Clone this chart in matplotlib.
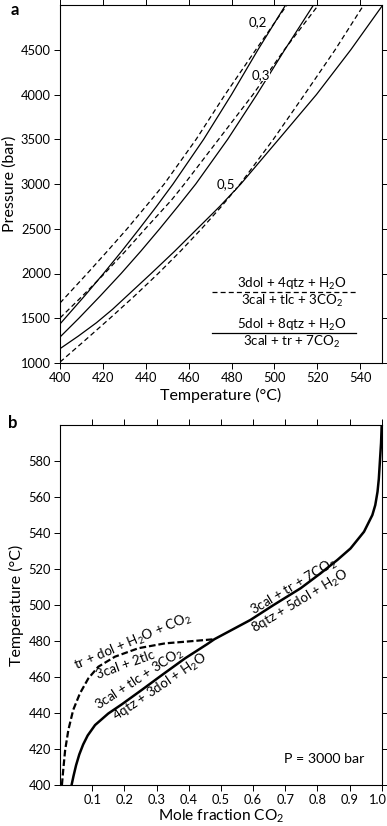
import matplotlib
matplotlib.use("Agg")
import matplotlib.pyplot as plt
import matplotlib.transforms as mtransforms

plt.rcParams['font.family'] = ['Lato', 'DejaVu Sans']
plt.rcParams['mathtext.fontset'] = 'custom'
plt.rcParams['mathtext.rm'] = 'Lato'
plt.rcParams['mathtext.it'] = 'Lato'
plt.rcParams['mathtext.bf'] = 'Lato:bold'

# ---------------- Panel a data: T (°C) at given pressures (bar) ----------------
# solid: 5dol + 8qtz + H2O = 3cal + tr + 7CO2
tr_x02_P = [1436, 1750, 2000, 2250, 2500, 2750, 3000, 3500, 4000, 4500, 5000]
tr_x02_T = [400, 411.5, 420.3, 428.8, 437.0, 445.0, 452.7, 467.0, 480.0, 492.3, 505.2]
tr_x03_P = [1290, 1500, 1750, 2000, 2250, 2500, 2750, 3000, 3500, 4000, 4500, 5000]
tr_x03_T = [400, 408.8, 418.8, 428.5, 437.7, 446.5, 455.0, 463.3, 478.2, 491.8, 504.8, 518.2]
tr_x05_P = [1160, 1300, 1450, 1600, 1800, 2000, 2250, 2500, 2750, 3000, 3500, 4000, 4500, 5000]
tr_x05_T = [400, 408.5, 417.0, 424.5, 433.5, 442.5, 453.5, 464.0, 474.5, 484.3, 502.0, 519.6, 535.6, 550.5]

# dashed: 3dol + 4qtz + H2O = 3cal + tlc + 3CO2
tlc_x02_P = [1670, 2000, 2250, 2500, 2821, 3000, 3500, 4000, 4500, 5000]
tlc_x02_T = [400, 412.7, 422.1, 431.3, 442.5, 448.6, 463.5, 477.0, 491.3, 505.8]
tlc_x03_P = [1503, 1750, 2000, 2250, 2500, 2821, 3000, 3500, 4000, 4500, 5000]
tlc_x03_T = [400, 410.5, 420.8, 430.5, 439.8, 452.0, 458.0, 474.0, 490.0, 504.6, 520.5]
tlc_x05_P = [1010, 1250, 1500, 1750, 2000, 2250, 2500, 2750, 3000, 3500, 4000, 4500, 5000]
tlc_x05_T = [400, 411.5, 423.3, 434.8, 445.8, 456.2, 466.0, 475.3, 484.0, 499.5, 514.0, 528.3, 541.6]

xco2_labels = ["0,2", "0,3", "0,5"]
xco2_label_T = [492.3, 493.5, 477.3]
xco2_label_P = [4810, 4218, 3000]

# ---------------- Panel b data: T (°C) vs X(CO2) at 3000 bar ----------------
tr_X = [0.036, 0.042, 0.050, 0.060, 0.072, 0.086, 0.109, 0.150, 0.192, 0.254,
        0.317, 0.389, 0.457, 0.480, 0.592, 0.664, 0.748, 0.810, 0.862, 0.903,
        0.945, 0.971, 0.980, 0.987, 0.991, 0.995, 0.998, 1.0]
tr_T = [400, 405.0, 411.0, 417.0, 422.5, 427.5, 433.3, 439.7, 444.8, 452.8,
        461.1, 470.4, 478.2, 481.0, 491.7, 500.0, 509.3, 517.6, 525.0, 531.4,
        540.7, 550.0, 555.5, 562.9, 570.0, 581.5, 590.0, 600]
tlc_X = [0.006, 0.010, 0.016, 0.026, 0.041, 0.062, 0.088, 0.119, 0.171, 0.244,
         0.327, 0.389, 0.480]
tlc_T = [400, 408.3, 419.4, 430.6, 441.7, 450.9, 459.2, 465.7, 471.3, 476.0,
         478.7, 479.6, 481.0]
x_ticks_b = [0.1, 0.2, 0.3, 0.4, 0.5, 0.6, 0.7, 0.8, 0.9, 1.0]
x_ticklabels_b = ["0.1", "0.2", "0.3", "0.4", "0.5", "0.6", "0.7", "0.8", "0.9", "1.0"]

fig = plt.figure(figsize=(3.87, 8.26), dpi=100)

# ---------------- Panel a ----------------
axa = fig.add_axes([60/387, 1-363/826, 321.7/387, 358/826])
lw_a = 0.9
dash_a = (0, (4, 2.5))
for T, P in [(tr_x02_T, tr_x02_P), (tr_x03_T, tr_x03_P), (tr_x05_T, tr_x05_P)]:
    axa.plot(T, P, color='black', lw=lw_a)
for T, P in [(tlc_x02_T, tlc_x02_P), (tlc_x03_T, tlc_x03_P), (tlc_x05_T, tlc_x05_P)]:
    axa.plot(T, P, color='black', lw=lw_a, linestyle=dash_a)
for lab, T, P in zip(xco2_labels, xco2_label_T, xco2_label_P):
    axa.text(T, P, lab, ha='center', va='center', fontsize=9.5,
             bbox=dict(facecolor='white', edgecolor='none', pad=0.3))

axa.set_xlim(400, 550)
axa.set_ylim(1000, 5000)
axa.set_xticks(range(400, 541, 20))
axa.set_yticks(range(1000, 4501, 500))
axa.set_xlabel("Temperature (°C)", fontsize=11.5, labelpad=3)
axa.set_ylabel("Pressure (bar)", fontsize=11.5, labelpad=3)

# reaction annotations
axa.plot([0.472, 0.920], [0.198, 0.198], transform=axa.transAxes, color='black',
         lw=lw_a, linestyle=dash_a)
axa.text(0.721, 0.221, "3dol + 4qtz + H$_2$O", transform=axa.transAxes,
         ha='center', va='center', fontsize=9.6)
axa.text(0.721, 0.1746, "3cal + tlc + 3CO$_2$", transform=axa.transAxes,
         ha='center', va='center', fontsize=9.6)
axa.plot([0.472, 0.920], [0.0838, 0.0838], transform=axa.transAxes, color='black',
         lw=lw_a)
axa.text(0.721, 0.106, "5dol + 8qtz + H$_2$O", transform=axa.transAxes,
         ha='center', va='center', fontsize=9.6)
axa.text(0.721, 0.060, "3cal + tr + 7CO$_2$", transform=axa.transAxes,
         ha='center', va='center', fontsize=9.6)

# ---------------- Panel b ----------------
axb = fig.add_axes([60/387, 1-785/826, 321.7/387, 360/826])
axb.plot(tr_X, tr_T, color='black', lw=1.8)
axb.plot(tlc_X, tlc_T, color='black', lw=1.6, linestyle=(0, (3, 1.3)))
axb.set_xlim(0, 1.0)
axb.set_ylim(400, 600)
axb.set_xticks(x_ticks_b)
axb.set_xticklabels(x_ticklabels_b)
axb.set_yticks(range(400, 581, 20))
axb.set_xlabel("Mole fraction CO$_2$", fontsize=11.2, labelpad=1)
axb.set_ylabel("Temperature (°C)", fontsize=11.5, labelpad=3)

fs_b = 9.7
axb.text(0.726, 510, "3cal + tr + 7CO$_2$", rotation=31, rotation_mode='anchor',
         ha='center', va='center', fontsize=fs_b)
axb.text(0.747, 501.7, "8qtz + 5dol + H$_2$O", rotation=31, rotation_mode='anchor',
         ha='center', va='center', fontsize=fs_b)
axb.text(0.228, 479.5, "tr + dol + H$_2$O + CO$_2$", rotation=23, rotation_mode='anchor',
         ha='center', va='center', fontsize=fs_b)
axb.text(0.205, 467, "3cal + 2tlc", rotation=20, rotation_mode='anchor',
         ha='center', va='center', fontsize=fs_b)
axb.text(0.249, 458.5, "3cal + tlc + 3CO$_2$", rotation=33, rotation_mode='anchor',
         ha='center', va='center', fontsize=fs_b)
axb.text(0.311, 454.3, "4qtz + 3dol + H$_2$O", rotation=34, rotation_mode='anchor',
         ha='center', va='center', fontsize=fs_b)
axb.text(0.82, 414.4, "P = 3000 bar", ha='center', va='center', fontsize=10.2)

for ax in (axa, axb):
    ax.tick_params(direction='out', length=4, width=0.7, labelsize=9.3,
                   top=True, right=True, labeltop=False, labelright=False, pad=2.5)
    for s in ax.spines.values():
        s.set_linewidth(0.8)

# keep the last x label of panel b inside the figure
last = axb.get_xticklabels()[-1]
last.set_transform(last.get_transform() +
                   mtransforms.ScaledTranslation(-4/100, 0, fig.dpi_scale_trans))

fig.text(15/387, 1-10/826, "a", fontsize=12, fontweight='bold', ha='center', va='center')
fig.text(13/387, 1-423/826, "b", fontsize=12, fontweight='bold', ha='center', va='center')

fig.savefig("out.png", dpi=100)
